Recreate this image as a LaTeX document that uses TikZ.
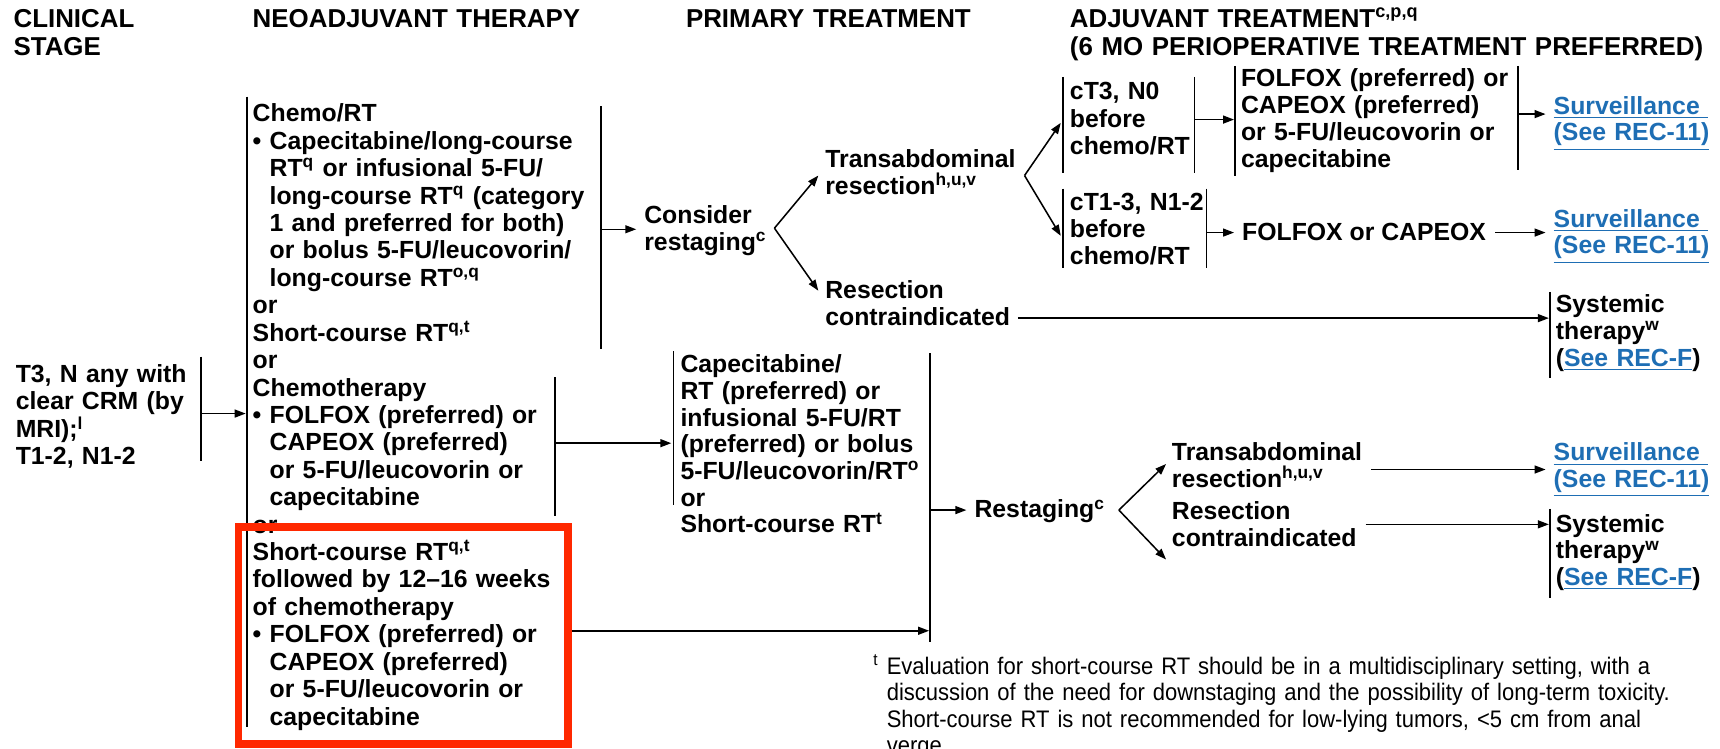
\documentclass[tikz,border=0pt]{standalone}
\usepackage{fontspec}
\setmainfont{Liberation Sans}
\newfontfamily\fnfont{Liberation Sans}[FakeStretch=0.92]
\usetikzlibrary{arrows.meta}
\definecolor{linkblue}{RGB}{30,110,180}
\definecolor{hired}{RGB}{255,40,0}
\newcommand\bl{\textbullet\ }
\newcommand\ii{\hphantom{\textbullet\ }}
\newcommand\lnk[1]{{\color{linkblue}\underline{#1}}}
\newcommand\sups[1]{\textsuperscript{#1}}
\tikzset{
  T/.style={anchor=base west, inner sep=0pt, text width=300pt, align=left,
            font=\bfseries\fontsize{11.3}{#1}\selectfont},
  T/.default=12.2pt,
  T1/.style={anchor=base west, inner sep=0pt, font=\bfseries\fontsize{11.3}{12.2}\selectfont},
  H/.style={anchor=base west, inner sep=0pt, text width=400pt, align=left,
            font=\bfseries\fontsize{11.8}{13}\selectfont},
  FN/.style={anchor=base west, inner sep=0pt, text width=500pt, align=left,
            font=\fnfont\fontsize{10.9}{12}\selectfont},
  bar/.style={line width=0.75pt},
  arr/.style={line width=0.7pt, -{Triangle[length=5pt,width=3.6pt]}},
  arrt/.style={arr, shorten >=3.5pt},
}
\begin{document}
\begin{tikzpicture}[x=0.5pt,y=-0.5pt]
\useasboundingbox (0,0) rectangle (1568,682);

% headers
\node[H] (hcs)  at (12,25)  {CLINICAL\\STAGE};
\node[H] (hneo) at (230,25) {NEOADJUVANT THERAPY};
\node[H] (hpri) at (625,25) {PRIMARY TREATMENT};
\node[H] (hadj) at (975,25) {ADJUVANT TREATMENT\sups{c,p,q}\\(6 MO PERIOPERATIVE TREATMENT PREFERRED)};

% clinical stage
\node[T=12pt] (clin) at (14,349) {T3, N any with\\clear CRM (by\\MRI);\sups{l}\\T1-2, N1-2};

% neoadjuvant column
\node[T=12.5pt] (nA) at (230,111) {Chemo/RT\\
\bl Capecitabine/long-course\\
\ii RT\sups{q} or infusional 5-FU/\\
\ii long-course RT\sups{q} (category\\
\ii 1 and preferred for both)\\
\ii or bolus 5-FU/leucovorin/\\
\ii long-course RT\sups{o,q}\\
or\\
Short-course RT\sups{q,t}};
\node[T1] (or1) at (230,336) {or};
\node[T=12.5pt] (nB) at (230,361) {Chemotherapy\\
\bl FOLFOX (preferred) or\\
\ii CAPEOX (preferred)\\
\ii or 5-FU/leucovorin or\\
\ii capecitabine};
\node[T1] (or2) at (230,486) {or};
\node[T=12.5pt] (nC) at (230,511) {Short-course RT\sups{q,t}\\
followed by 12--16 weeks\\
of chemotherapy\\
\bl FOLFOX (preferred) or\\
\ii CAPEOX (preferred)\\
\ii or 5-FU/leucovorin or\\
\ii capecitabine};

% primary treatment
\node[T=12.15pt] (prim) at (620,340) {Capecitabine/\\RT (preferred) or\\infusional 5-FU/RT\\(preferred) or bolus\\5-FU/leucovorin/RT\sups{o}\\or\\Short-course RT\sups{t}};
\node[T] (cons) at (587,204) {Consider\\restaging\sups{c}};
\node[T1] (rest) at (888,472) {Restaging\sups{c}};

% upper branch
\node[T] (ta1) at (752,153) {Transabdominal\\resection\sups{h,u,v}};
\node[T] (rc1) at (752,272) {Resection\\contraindicated};
\node[T=12.5pt] (ct3) at (975,91) {cT3, N0\\before\\chemo/RT};
\node[T=12.3pt] (f1) at (1131,79) {FOLFOX (preferred) or\\CAPEOX (preferred)\\or 5-FU/leucovorin or\\capecitabine};
\node[T] (s1) at (1416,104) {\lnk{Surveillance\ }\\\lnk{(See REC-11)}};
\node[T=12.3pt] (ct13) at (975,192) {cT1-3, N1-2\\before\\chemo/RT};
\node[T1] (fc) at (1132,219) {FOLFOX or CAPEOX};
\node[T] (s2) at (1416,207) {\lnk{Surveillance\ }\\\lnk{(See REC-11)}};
\node[T] (sys1) at (1418,285) {Systemic\\therapy\sups{w}\\(\lnk{See REC-F})};

% lower branch
\node[T] (ta2) at (1068,420) {Transabdominal\\resection\sups{h,u,v}};
\node[T] (rc2) at (1068,474) {Resection\\contraindicated};
\node[T] (s3) at (1416,420) {\lnk{Surveillance\ }\\\lnk{(See REC-11)}};
\node[T] (sys2) at (1418,485) {Systemic\\therapy\sups{w}\\(\lnk{See REC-F})};

% footnote
\node[FN] (fn) at (808,615) {\llap{\textsuperscript{t}\ }Evaluation for short-course RT should be in a multidisciplinary setting, with a\\discussion of the need for downstaging and the possibility of long-term toxicity.\\Short-course RT is not recommended for low-lying tumors, <5 cm from anal\\verge.};

% bars
\draw[bar] (225,88) -- (225,663);
\draw[bar] (548,97) -- (548,318);
\draw[bar] (506,344) -- (506,470);
\draw[bar] (183,325) -- (183,420);
\draw[bar] (614,320) -- (614,460);
\draw[bar] (848,322) -- (848,585);
\draw[bar] (969,70) -- (969,158);
\draw[bar] (1089,70) -- (1089,158);
\draw[bar] (1126,60) -- (1126,160);
\draw[bar] (1384,60) -- (1384,155);
\draw[bar] (969,172) -- (969,244);
\draw[bar] (1100,172) -- (1100,244);
\draw[bar] (1413,266) -- (1413,345);
\draw[bar] (1413,464) -- (1413,545);

% connector end points on bars
\coordinate (clinR) at (183,377);
\coordinate (neoL) at (224,377);
\coordinate (nAout) at (548,209);
\coordinate (ap1) at (706,208);
\coordinate (t1) at (746,160);
\coordinate (t2) at (746,265);
\coordinate (ap2) at (934,160);
\coordinate (ct3in) at (967,112);
\coordinate (ct13in) at (967,215);
\coordinate (ct3out) at (1089,109);
\coordinate (f1in) at (1125,109);
\coordinate (f1out) at (1384,104);
\coordinate (ct13out) at (1100,212);
\coordinate (rc1out) at (928,290);
\coordinate (sys1in) at (1412,290);
\coordinate (nBout) at (506,404);
\coordinate (primin) at (612,404);
\coordinate (ncout) at (521,575);
\coordinate (primR) at (847,575);
\coordinate (primout) at (848,465);
\coordinate (ap3) at (1020,465);
\coordinate (t3) at (1063,423);
\coordinate (t4) at (1063,510);
\coordinate (ta2out) at (1250,428);
\coordinate (s3in) at (1409,428);
\coordinate (rc2out) at (1245,478);
\coordinate (sys2in) at (1412,478);

% connectors
\draw[arr] (clinR) -- (neoL);
\draw[arrt] (nAout) -- (nAout -| cons.west);
\draw[arr] (ap1) -- (t1);
\draw[arr] (ap1) -- (t2);
\draw[arr] (ap2) -- (ct3in);
\draw[arr] (ap2) -- (ct13in);
\draw[arr] (ct3out) -- (f1in);
\draw[arrt] (f1out) -- (f1out -| s1.west);
\draw[arrt] (ct13out) -- (ct13out -| fc.west);
\draw[arrt, shorten <=4pt] (ct13out -| fc.east) -- (ct13out -| s2.west);
\draw[arr] (rc1out) -- (sys1in);
\draw[arr] (nBout) -- (primin);
\draw[arr] (ncout) -- (primR);
\draw[arrt] (primout) -- (primout -| rest.west);
\draw[arr] (ap3) -- (t3);
\draw[arr] (ap3) -- (t4);
\draw[arr] (ta2out) -- (s3in);
\draw[arr] (rc2out) -- (sys2in);

% highlight
\draw[hired, line width=3.5pt] (217.5,480.5) rectangle (517.5,678.5);
\end{tikzpicture}
\end{document}
